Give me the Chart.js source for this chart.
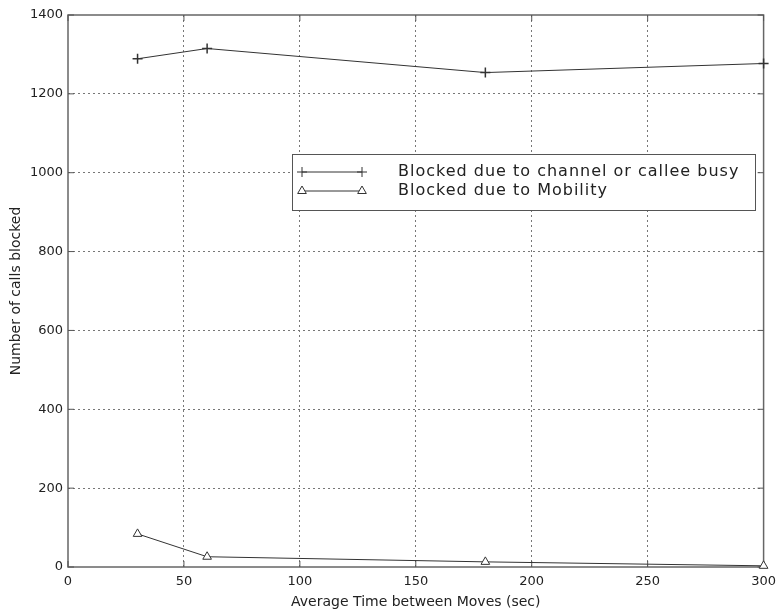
<!DOCTYPE html>
<html>
<head>
<meta charset="utf-8">
<script src="https://cdn.jsdelivr.net/npm/chart.js@4.4.1/dist/chart.umd.min.js"></script>
<style>
  html, body { margin: 0; padding: 0; background: #fff; }
  #wrap { width: 783px; height: 612px; }
</style>
</head>
<body>
<div id="wrap"><canvas id="chart" width="783" height="612"></canvas></div>
<script>
// values
const moveTimes = [30, 60, 180, 300];
const blockedBusy = [1289, 1315, 1254, 1277];
const blockedMobility = [84, 26, 13, 3];
const seriesLabels = ["Blocked due to channel or callee busy", "Blocked due to Mobility"];
const xTitle = "Average Time between Moves (sec)";
const yTitle = "Number of calls blocked";

const FONT = "'DejaVu Sans', sans-serif";
const LINE = "#333";

// box round the plot plus the small inward ticks
const framePlugin = {
  id: "frame",
  beforeDatasetsDraw(chart) {
    const { ctx, chartArea: a, scales } = chart;
    ctx.save();
    ctx.strokeStyle = "#666";
    ctx.lineWidth = 1.5;
    ctx.strokeRect(a.left, a.top, a.right - a.left, a.bottom - a.top);
    ctx.lineWidth = 1;
    ctx.strokeStyle = "#555";
    ctx.beginPath();
    scales.x.ticks.forEach((t) => {
      const px = scales.x.getPixelForValue(t.value);
      ctx.moveTo(px, a.bottom); ctx.lineTo(px, a.bottom - 6);
      ctx.moveTo(px, a.top); ctx.lineTo(px, a.top + 6);
    });
    scales.y.ticks.forEach((t) => {
      const py = scales.y.getPixelForValue(t.value);
      ctx.moveTo(a.left, py); ctx.lineTo(a.left + 6, py);
      ctx.moveTo(a.right, py); ctx.lineTo(a.right - 6, py);
    });
    ctx.stroke();
    ctx.restore();
  },
};

// boxed legend inside the plot, marker at each end of the sample line
const legendPlugin = {
  id: "boxLegend",
  afterDraw(chart) {
    const { ctx } = chart;
    const x0 = 292, y0 = 154, w = 463, h = 56;
    ctx.save();
    ctx.fillStyle = "#fff";
    ctx.fillRect(x0, y0, w, h);
    ctx.strokeStyle = "#555";
    ctx.lineWidth = 1;
    ctx.strokeRect(x0 + 0.5, y0 + 0.5, w, h);
    const rows = [172, 191];
    chart.data.datasets.forEach((ds, i) => {
      const y = rows[i];
      ctx.strokeStyle = LINE;
      ctx.lineWidth = 1;
      ctx.beginPath();
      ctx.moveTo(302, y); ctx.lineTo(362, y);
      ctx.stroke();
      const opts = {
        pointStyle: ds.pointStyle,
        radius: ds.pointRadius,
        borderWidth: 1,
      };
      ctx.fillStyle = "#fff";
      ctx.strokeStyle = LINE;
      Chart.helpers.drawPoint(ctx, opts, 302, y);
      Chart.helpers.drawPoint(ctx, opts, 362, y);
      ctx.fillStyle = "#222";
      ctx.font = "16px " + FONT;
      if ("letterSpacing" in ctx) ctx.letterSpacing = "1px";
      ctx.textBaseline = "middle";
      ctx.fillText(seriesLabels[i], 398, y);
    });
    ctx.restore();
  },
};

new Chart(document.getElementById("chart"), {
  type: "line",
  data: {
    labels: moveTimes,
    datasets: [
      {
        label: seriesLabels[0],
        data: moveTimes.map((t, i) => ({ x: t, y: blockedBusy[i] })),
        borderColor: LINE,
        borderWidth: 1,
        pointStyle: "cross",
        pointRadius: 5,
        pointBorderWidth: 1.5,
        pointBorderColor: LINE,
        fill: false,
      },
      {
        label: seriesLabels[1],
        data: moveTimes.map((t, i) => ({ x: t, y: blockedMobility[i] })),
        borderColor: LINE,
        borderWidth: 1,
        pointStyle: "triangle",
        pointRadius: 5,
        pointBorderWidth: 1,
        pointBorderColor: LINE,
        pointBackgroundColor: "#fff",
        fill: false,
      },
    ],
  },
  options: {
    responsive: false,
    animation: false,
    clip: false,
    layout: { padding: { left: 0, right: 16, top: 15, bottom: 0 } },
    plugins: {
      legend: { display: false },
      tooltip: { enabled: false },
    },
    scales: {
      x: {
        type: "linear",
        min: 0,
        max: 300,
        afterFit: (s) => { s.height = 45; },
        ticks: {
          stepSize: 50,
          padding: 7,
          color: "#222",
          font: { family: FONT, size: 13 },
          maxRotation: 0,
          callback: (v) => String(v),
        },
        grid: {
          color: (c) => (c.tick && (c.tick.value === 0 || c.tick.value === 300) ? "transparent" : "#777"),
          lineWidth: 1,
          drawTicks: false,
        },
        border: { display: false, dash: [2, 3] },
        title: {
          display: true,
          text: xTitle,
          color: "#222",
          font: { family: FONT, size: 14 },
          padding: { top: 0, bottom: 1 },
        },
      },
      y: {
        min: 0,
        max: 1400,
        afterFit: (s) => { s.width = 68; },
        ticks: {
          stepSize: 200,
          padding: 5,
          color: "#222",
          font: { family: FONT, size: 13 },
          callback: (v) => String(v),
        },
        grid: {
          color: (c) => (c.tick && (c.tick.value === 0 || c.tick.value === 1400) ? "transparent" : "#777"),
          lineWidth: 1,
          drawTicks: false,
        },
        border: { display: false, dash: [2, 3] },
        title: {
          display: true,
          text: yTitle,
          color: "#222",
          font: { family: FONT, size: 14 },
          padding: { top: 8, bottom: 0 },
        },
      },
    },
  },
  plugins: [framePlugin, legendPlugin],
});
</script>
</body>
</html>
